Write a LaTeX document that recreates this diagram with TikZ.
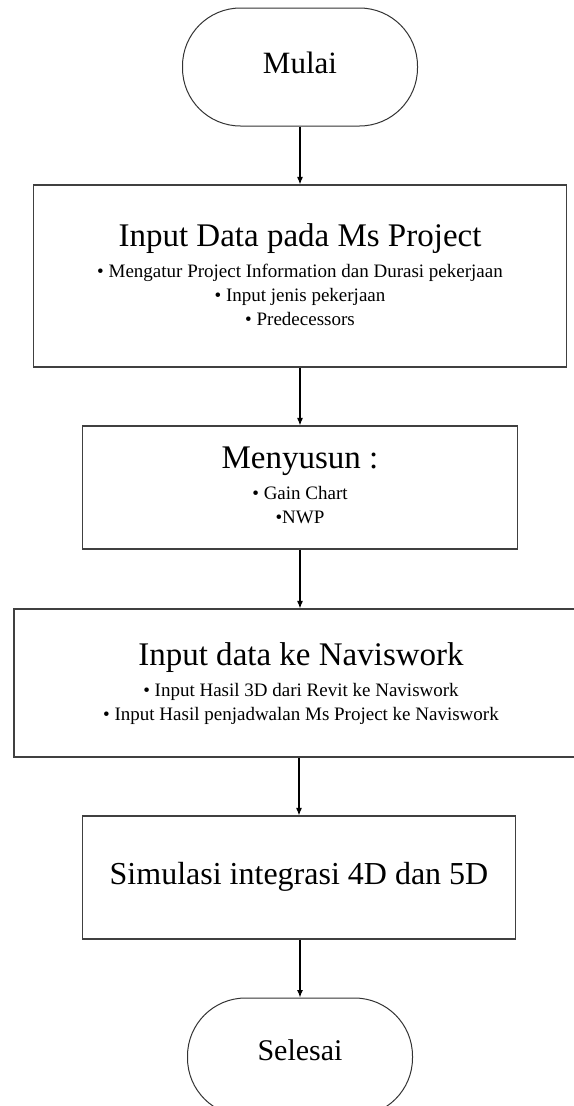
\documentclass[tikz,border=0pt]{standalone}
\usepackage{fontspec}
\setmainfont{Liberation Serif}
\usetikzlibrary{arrows.meta}
\begin{document}
\begin{tikzpicture}[x=1bp,y=-1bp,
  box/.style={draw=black!75, line width=1.1bp, rectangle, inner sep=0pt},
  term/.style={draw=black!80, line width=1bp, rectangle, rounded corners=58bp, inner sep=0pt, minimum width=235bp, minimum height=118bp},
  ttl/.style={anchor=base, inner sep=0pt, font=\fontsize{33bp}{38bp}\selectfont},
  bul/.style={anchor=base, inner sep=0pt, font=\fontsize{19bp}{23bp}\selectfont},
  arr/.style={draw=black, line width=1.2bp, -{Latex[length=7.5bp,width=6bp]}}]
\useasboundingbox (0,0) rectangle (574,1106);
\fill[white] (0,0) rectangle (574,1106);

% shapes
\node[term] (start) at (300,67) {};
\node[box, minimum width=533bp, minimum height=182bp] (b1) at (300,276) {};
\node[box, minimum width=435bp, minimum height=123bp] (b2) at (300,487.5) {};
\node[box, minimum width=574bp, minimum height=148bp] (b3) at (301,683) {};
\node[box, minimum width=433bp, minimum height=123bp] (b4) at (299,877.5) {};
\node[term, minimum width=225bp] (stop) at (300,1057) {};

% texts
\node[ttl, font=\fontsize{31bp}{36bp}\selectfont] (tstart) at (300,73) {Mulai};
\node[ttl] (t1) at (300,246) {Input Data pada Ms Project};
\node[bul] (t1a) at (300,277) {• Mengatur Project Information dan Durasi pekerjaan};
\node[bul] (t1b) at (300,301) {• Input jenis pekerjaan};
\node[bul] (t1c) at (300,325) {• Predecessors};
\node[ttl] (t2) at (300,468) {Menyusun :};
\node[bul] (t2a) at (300,499) {• Gain Chart};
\node[bul] (t2b) at (300,523) {•NWP};
\node[ttl] (t3) at (301,665) {Input data ke Naviswork};
\node[bul] (t3a) at (301,696) {• Input Hasil 3D dari Revit ke Naviswork};
\node[bul] (t3b) at (301,720) {• Input Hasil penjadwalan Ms Project ke Naviswork};
\node[ttl, font=\fontsize{32bp}{37bp}\selectfont] (t4) at (299,884) {Simulasi integrasi 4D dan 5D};
\node[ttl, font=\fontsize{30bp}{35bp}\selectfont] (tstop) at (300,1060) {Selesai};

% connectors
\draw[arr] (start.south) -- (b1.north);
\draw[arr] (b1.south) -- (b2.north);
\draw[arr] (b2.south) -- (b2.south |- b3.north);
\draw[arr] (b3.south -| b4.north) -- (b4.north);
\draw[arr] (b4.south -| stop.north) -- (stop.north);
\end{tikzpicture}
\end{document}
